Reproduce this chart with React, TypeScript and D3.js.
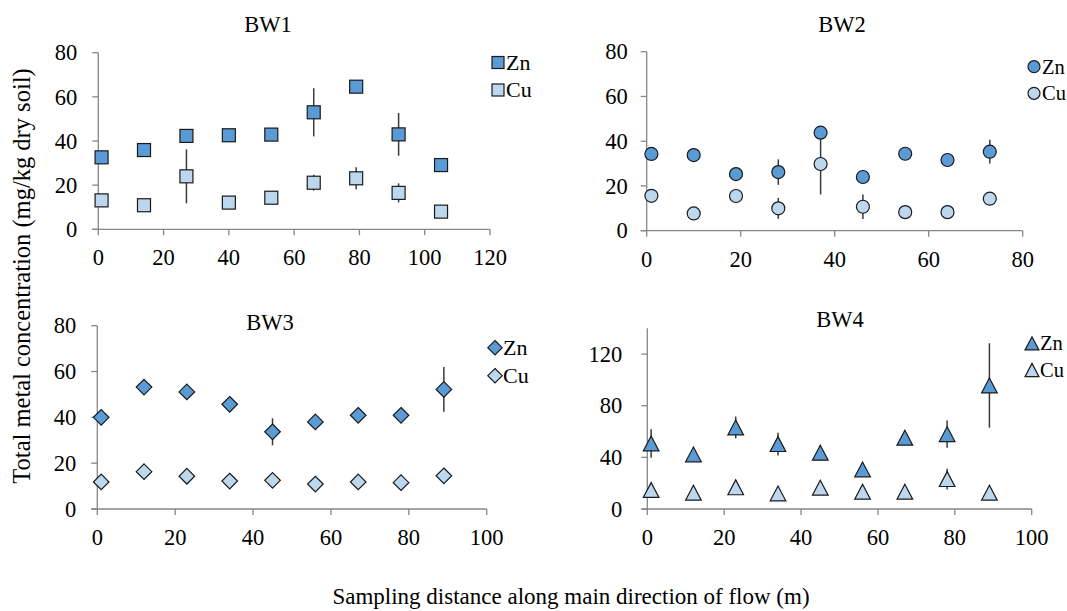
import React from "react";
import * as d3 from "d3";

const bw1X = [1, 14, 27, 40, 53, 66, 79, 92, 105];
const bw1Zn = [32.6, 35.9, 42.3, 42.6, 42.9, 53, 64.6, 43, 29.1];
const bw1ZnErr = [1, 1, 1, 1, 1, 10.9, 2, 9.7, 1];
const bw1Cu = [13.1, 10.9, 24, 12.1, 14.3, 21.1, 23.1, 16.5, 8.0];
const bw1CuErr = [1, 1, 12.2, 1, 1, 3.6, 5, 4.3, 1];

const bw2X = [1, 10, 19, 28, 37, 46, 55, 64, 73];
const bw2Zn = [34.3, 33.8, 25.3, 26.2, 43.8, 24.0, 34.4, 31.6, 35.3];
const bw2ZnErr = [1, 1, 1, 5.7, 1, 1, 1, 1, 5.3];
const bw2Cu = [15.6, 7.7, 15.5, 10, 29.8, 10.7, 8.3, 8.3, 14.3];
const bw2CuErr = [1, 1, 1, 4.7, 13.6, 5.5, 1, 1, 1];

const bw3X = [1, 12, 23, 34, 45, 56, 67, 78, 89];
const bw3Zn = [40, 53.2, 51.1, 45.7, 33.7, 38, 40.9, 40.9, 52.2];
const bw3ZnErr = [1, 1, 1, 1, 5.9, 1, 1, 1, 9.8];
const bw3Cu = [11.8, 16.3, 14.3, 12.2, 12.5, 10.9, 11.8, 11.5, 14.5];
const bw3CuErr = [1, 1, 1, 1, 1, 1, 1, 1, 1];

const bw4X = [1, 12, 23, 34, 45, 56, 67, 78, 89];
const bw4Zn = [50.8, 42.3, 63.2, 50.3, 43.6, 30.7, 55.2, 58, 95.7];
const bw4ZnErr = [11, 1, 8.5, 8.8, 6, 1, 1, 10.6, 32.7];
const bw4Cu = [14.7, 12.6, 16.8, 12.1, 16.5, 13.4, 13.4, 23.2, 12.6];
const bw4CuErr = [1, 1, 1, 1, 1, 1, 1, 8, 1];

const seriesNames = ["Zn", "Cu"];
const ZN_COLOR = "#5b9bd5";
const CU_COLOR = "#bdd7ee";
const AXIS_COLOR = "#868686";
const FONT = "'Liberation Serif', 'Times New Roman', serif";

type Shape = "square" | "circle" | "diamond" | "triangle";

interface PanelSpec {
  title: string;
  xs: number[];
  zn: number[];
  znErr: number[];
  cu: number[];
  cuErr: number[];
  xMax: number;
  xTicks: number[];
  yMax: number;
  yTicks: number[];
  shape: Shape;
  px0: number;
  px1: number;
  py0: number;
  py1: number;
  titleX: number;
  titleY: number;
  legX: number;
  legY: number[];
  legGap: number;
  legFont: number;
  yLabGap: number;
}

const panels: PanelSpec[] = [
  {
    title: "BW1", xs: bw1X, zn: bw1Zn, znErr: bw1ZnErr, cu: bw1Cu, cuErr: bw1CuErr,
    xMax: 120, xTicks: [0, 20, 40, 60, 80, 100, 120], yMax: 80, yTicks: [0, 20, 40, 60, 80],
    shape: "square", px0: 98.3, px1: 490, py0: 229.3, py1: 52.7,
    titleX: 268, titleY: 32, legX: 498, legY: [62.5, 90], legGap: 8, legFont: 22, yLabGap: 21,
  },
  {
    title: "BW2", xs: bw2X, zn: bw2Zn, znErr: bw2ZnErr, cu: bw2Cu, cuErr: bw2CuErr,
    xMax: 80, xTicks: [0, 20, 40, 60, 80], yMax: 80, yTicks: [0, 20, 40, 60, 80],
    shape: "circle", px0: 646.7, px1: 1022.7, py0: 230.7, py1: 51.7,
    titleX: 842, titleY: 32, legX: 1034, legY: [66.7, 93.3], legGap: 8, legFont: 20.5, yLabGap: 19,
  },
  {
    title: "BW3", xs: bw3X, zn: bw3Zn, znErr: bw3ZnErr, cu: bw3Cu, cuErr: bw3CuErr,
    xMax: 100, xTicks: [0, 20, 40, 60, 80, 100], yMax: 80, yTicks: [0, 20, 40, 60, 80],
    shape: "diamond", px0: 97.3, px1: 486.7, py0: 509, py1: 325.7,
    titleX: 270, titleY: 330, legX: 495, legY: [347.7, 375.7], legGap: 8, legFont: 22, yLabGap: 21,
  },
  {
    title: "BW4", xs: bw4X, zn: bw4Zn, znErr: bw4ZnErr, cu: bw4Cu, cuErr: bw4CuErr,
    xMax: 100, xTicks: [0, 20, 40, 60, 80, 100], yMax: 140, yTicks: [0, 40, 80, 120],
    shape: "triangle", px0: 647.3, px1: 1031.7, py0: 509, py1: 328.3,
    titleX: 840, titleY: 327, legX: 1032, legY: [343.3, 370], legGap: 8, legFont: 20.5, yLabGap: 25,
  },
];

function Marker({ shape, cx, cy, fill, size }: { shape: Shape; cx: number; cy: number; fill: string; size: number }) {
  const stroke = "#1a1a1a";
  const sw = 1.2;
  if (shape === "square") {
    return <rect x={cx - size / 2} y={cy - size / 2} width={size} height={size} fill={fill} stroke={stroke} strokeWidth={sw} />;
  }
  if (shape === "circle") {
    return <circle cx={cx} cy={cy} r={size / 2} fill={fill} stroke={stroke} strokeWidth={sw} />;
  }
  if (shape === "diamond") {
    const h = size * 0.6;
    return (
      <path d={`M${cx},${cy - h}L${cx + h},${cy}L${cx},${cy + h}L${cx - h},${cy}Z`} fill={fill} stroke={stroke} strokeWidth={sw} />
    );
  }
  const w = size * 0.58;
  const h = size * 0.55;
  return (
    <path d={`M${cx},${cy - h}L${cx + w},${cy + h}L${cx - w},${cy + h}Z`} fill={fill} stroke={stroke} strokeWidth={sw} />
  );
}

function Panel({ p }: { p: PanelSpec }) {
  const x = d3.scaleLinear().domain([0, p.xMax]).range([p.px0, p.px1]);
  const y = d3.scaleLinear().domain([0, p.yMax]).range([p.py0, p.py1]);
  const tick = 6;
  const series = [
    { name: seriesNames[0], vals: p.zn, err: p.znErr, color: ZN_COLOR },
    { name: seriesNames[1], vals: p.cu, err: p.cuErr, color: CU_COLOR },
  ];
  const size = p.shape === "triangle" ? 13.5 : 13;
  return (
    <g>
      <text x={p.titleX} y={p.titleY} textAnchor="middle" fontSize={22.5} fontFamily={FONT} fill="#000">{p.title}</text>
      <line x1={x(0)} x2={x(0)} y1={y(p.yMax)} y2={y(0)} stroke={AXIS_COLOR} strokeWidth={1.3} />
      <line x1={x(0) - tick} x2={x(p.xMax)} y1={y(0)} y2={y(0)} stroke={AXIS_COLOR} strokeWidth={1.3} />
      {p.yTicks.map((t) => (
        <g key={"y" + t}>
          <line x1={x(0) - tick} x2={x(0)} y1={y(t)} y2={y(t)} stroke={AXIS_COLOR} strokeWidth={1.3} />
          <text x={x(0) - p.yLabGap} y={y(t)} dy="0.34em" textAnchor="end" fontSize={22.5} fontFamily={FONT} fill="#000">{t}</text>
        </g>
      ))}
      {p.xTicks.map((t) => (
        <g key={"x" + t}>
          <line x1={x(t)} x2={x(t)} y1={y(0)} y2={y(0) + tick} stroke={AXIS_COLOR} strokeWidth={1.3} />
          <text x={x(t)} y={y(0) + 36} textAnchor="middle" fontSize={22.5} fontFamily={FONT} fill="#000">{t}</text>
        </g>
      ))}
      {series.map((s) =>
        p.xs.map((xv, i) => (
          <line key={s.name + "e" + i} x1={x(xv)} x2={x(xv)} y1={y(s.vals[i] + s.err[i])} y2={y(s.vals[i] - s.err[i])} stroke="#3a3a3a" strokeWidth={1.5} />
        ))
      )}
      {[series[1], series[0]].map((s) =>
        p.xs.map((xv, i) => (
          <Marker key={s.name + "m" + i} shape={p.shape} cx={x(xv)} cy={y(s.vals[i])} fill={s.color} size={size} />
        ))
      )}
      {series.map((s, k) => (
        <g key={"leg" + k}>
          <Marker shape={p.shape} cx={p.legX} cy={p.legY[k]} fill={s.color} size={12} />
          <text x={p.legX + p.legGap} y={p.legY[k]} dy="0.34em" fontSize={p.legFont} fontFamily={FONT} fill="#000">{s.name}</text>
        </g>
      ))}
    </g>
  );
}

export default function App() {
  return (
    <svg width={1067} height={611} style={{ position: "absolute", left: 0, top: 0, background: "#fff" }}>
      <rect x={0} y={0} width={1067} height={611} fill="#fff" />
      {panels.map((p) => (
        <Panel key={p.title} p={p} />
      ))}
      <text transform="translate(30,276) rotate(-90)" textAnchor="middle" fontSize={24.5} fontFamily={FONT} fill="#000">
        Total metal concentration (mg/kg dry soil)
      </text>
      <text x={571} y={604} textAnchor="middle" fontSize={23} fontFamily={FONT} fill="#000">
        Sampling distance along main direction of flow (m)
      </text>
    </svg>
  );
}
